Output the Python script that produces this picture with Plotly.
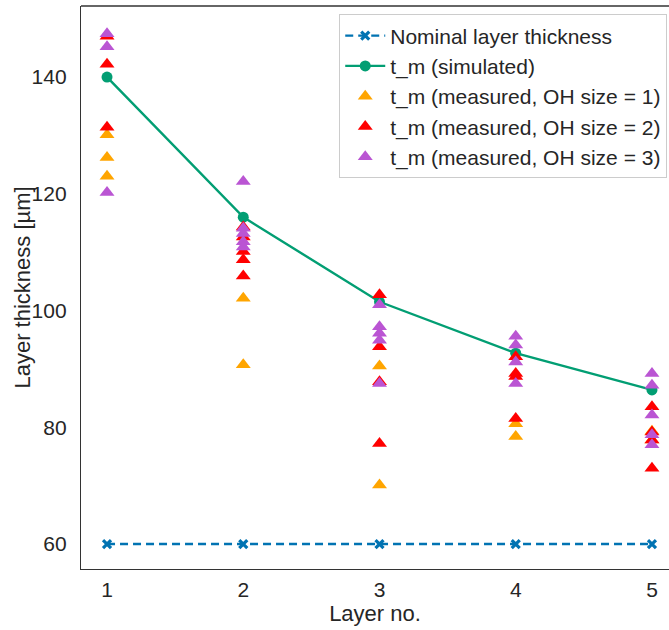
import plotly.graph_objects as go

# Layer numbers
layers = [1, 2, 3, 4, 5]

# Nominal and simulated layer thickness [µm]
nominal = [60, 60, 60, 60, 60]
simulated = [140.0, 116.0, 101.5, 92.7, 86.4]

# Measured thickness per layer for each overhang (OH) size
meas_oh1 = {
    1: [130.1, 126.2, 123.0],
    2: [102.1, 90.7],
    3: [90.5, 70.1],
    4: [80.6, 78.4],
    5: [79.3, 77.8],
}
meas_oh2 = {
    1: [147.0, 142.2, 131.4],
    2: [114.3, 112.6, 110.1, 108.7, 105.9],
    3: [102.7, 93.8, 87.8, 77.2],
    4: [92.1, 89.2, 88.7, 81.5],
    5: [83.5, 79.2, 77.8, 73.0],
}
meas_oh3 = {
    1: [147.4, 145.2, 120.2],
    2: [122.1, 114.1, 113.2, 111.8, 110.9],
    3: [101.0, 97.2, 96.1, 94.9, 87.5],
    4: [95.6, 94.1, 91.2, 87.5],
    5: [89.2, 87.2, 82.1, 78.7, 77.0],
}


def flatten(d):
    xs, ys = [], []
    for k, vals in d.items():
        xs += [k] * len(vals)
        ys += vals
    return xs, ys


fig = go.Figure()

fig.add_trace(go.Scatter(
    x=layers, y=nominal, mode="lines+markers", name="Nominal layer thickness",
    line=dict(color="#0173b2", width=2.4, dash="8px,5px"),
    marker=dict(symbol="x-thin", size=8, line=dict(width=3.2, color="#0173b2"), color="#0173b2"),
))
fig.add_trace(go.Scatter(
    x=layers, y=simulated, mode="lines+markers", name="t_m (simulated)",
    line=dict(color="#029e73", width=2.4),
    marker=dict(symbol="circle", size=11, color="#029e73"),
))

for d, color, label in [
    (meas_oh1, "orange", "t_m (measured, OH size = 1)"),
    (meas_oh2, "red", "t_m (measured, OH size = 2)"),
    (meas_oh3, "mediumorchid", "t_m (measured, OH size = 3)"),
]:
    xs, ys = flatten(d)
    fig.add_trace(go.Scatter(
        x=xs, y=ys, mode="markers", name=label,
        marker=dict(symbol="triangle-up", size=13, color=color),
    ))

font = "Liberation Sans, Arial, sans-serif"

fig.update_layout(
    width=669, height=630,
    margin=dict(l=81, r=0, t=6, b=61),
    paper_bgcolor="white", plot_bgcolor="white",
    font=dict(family=font, size=20, color="#262626"),
    showlegend=True,
    legend=dict(
        x=0.997, y=0.985, xanchor="right", yanchor="top",
        bgcolor="rgba(255,255,255,0.8)", bordercolor="#cccccc", borderwidth=1,
        font=dict(family=font, size=21, color="#262626"),
        tracegroupgap=0, itemwidth=40,
    ),
    xaxis=dict(
        range=[0.809, 5.125], tickvals=layers, ticktext=[str(v) for v in layers],
        showgrid=False, zeroline=False, showline=True, linecolor="#333333", linewidth=1.3,
        ticks="", ticklabelstandoff=2,
        tickfont=dict(family=font, size=21, color="#262626"),
        title=dict(text="Layer no.", font=dict(family=font, size=22), standoff=2),
    ),
    yaxis=dict(
        range=[55.72, 152.17], tickvals=[60, 80, 100, 120, 140],
        showgrid=False, zeroline=False, showline=True, linecolor="#333333", linewidth=1.3,
        ticks="", ticklabelstandoff=9,
        tickfont=dict(family=font, size=21, color="#262626"),
    ),
    annotations=[dict(
        text="Layer thickness [µm]", textangle=-90, showarrow=False,
        xref="paper", yref="paper", x=-0.1003, y=0.5, xanchor="center", yanchor="middle",
        font=dict(family=font, size=22, color="#262626"),
    )],
    shapes=[dict(type="line", xref="paper", yref="paper", x0=0, x1=1, y0=1, y1=1,
                 line=dict(color="#333333", width=1.3))],
)

fig.write_html("out.html")
